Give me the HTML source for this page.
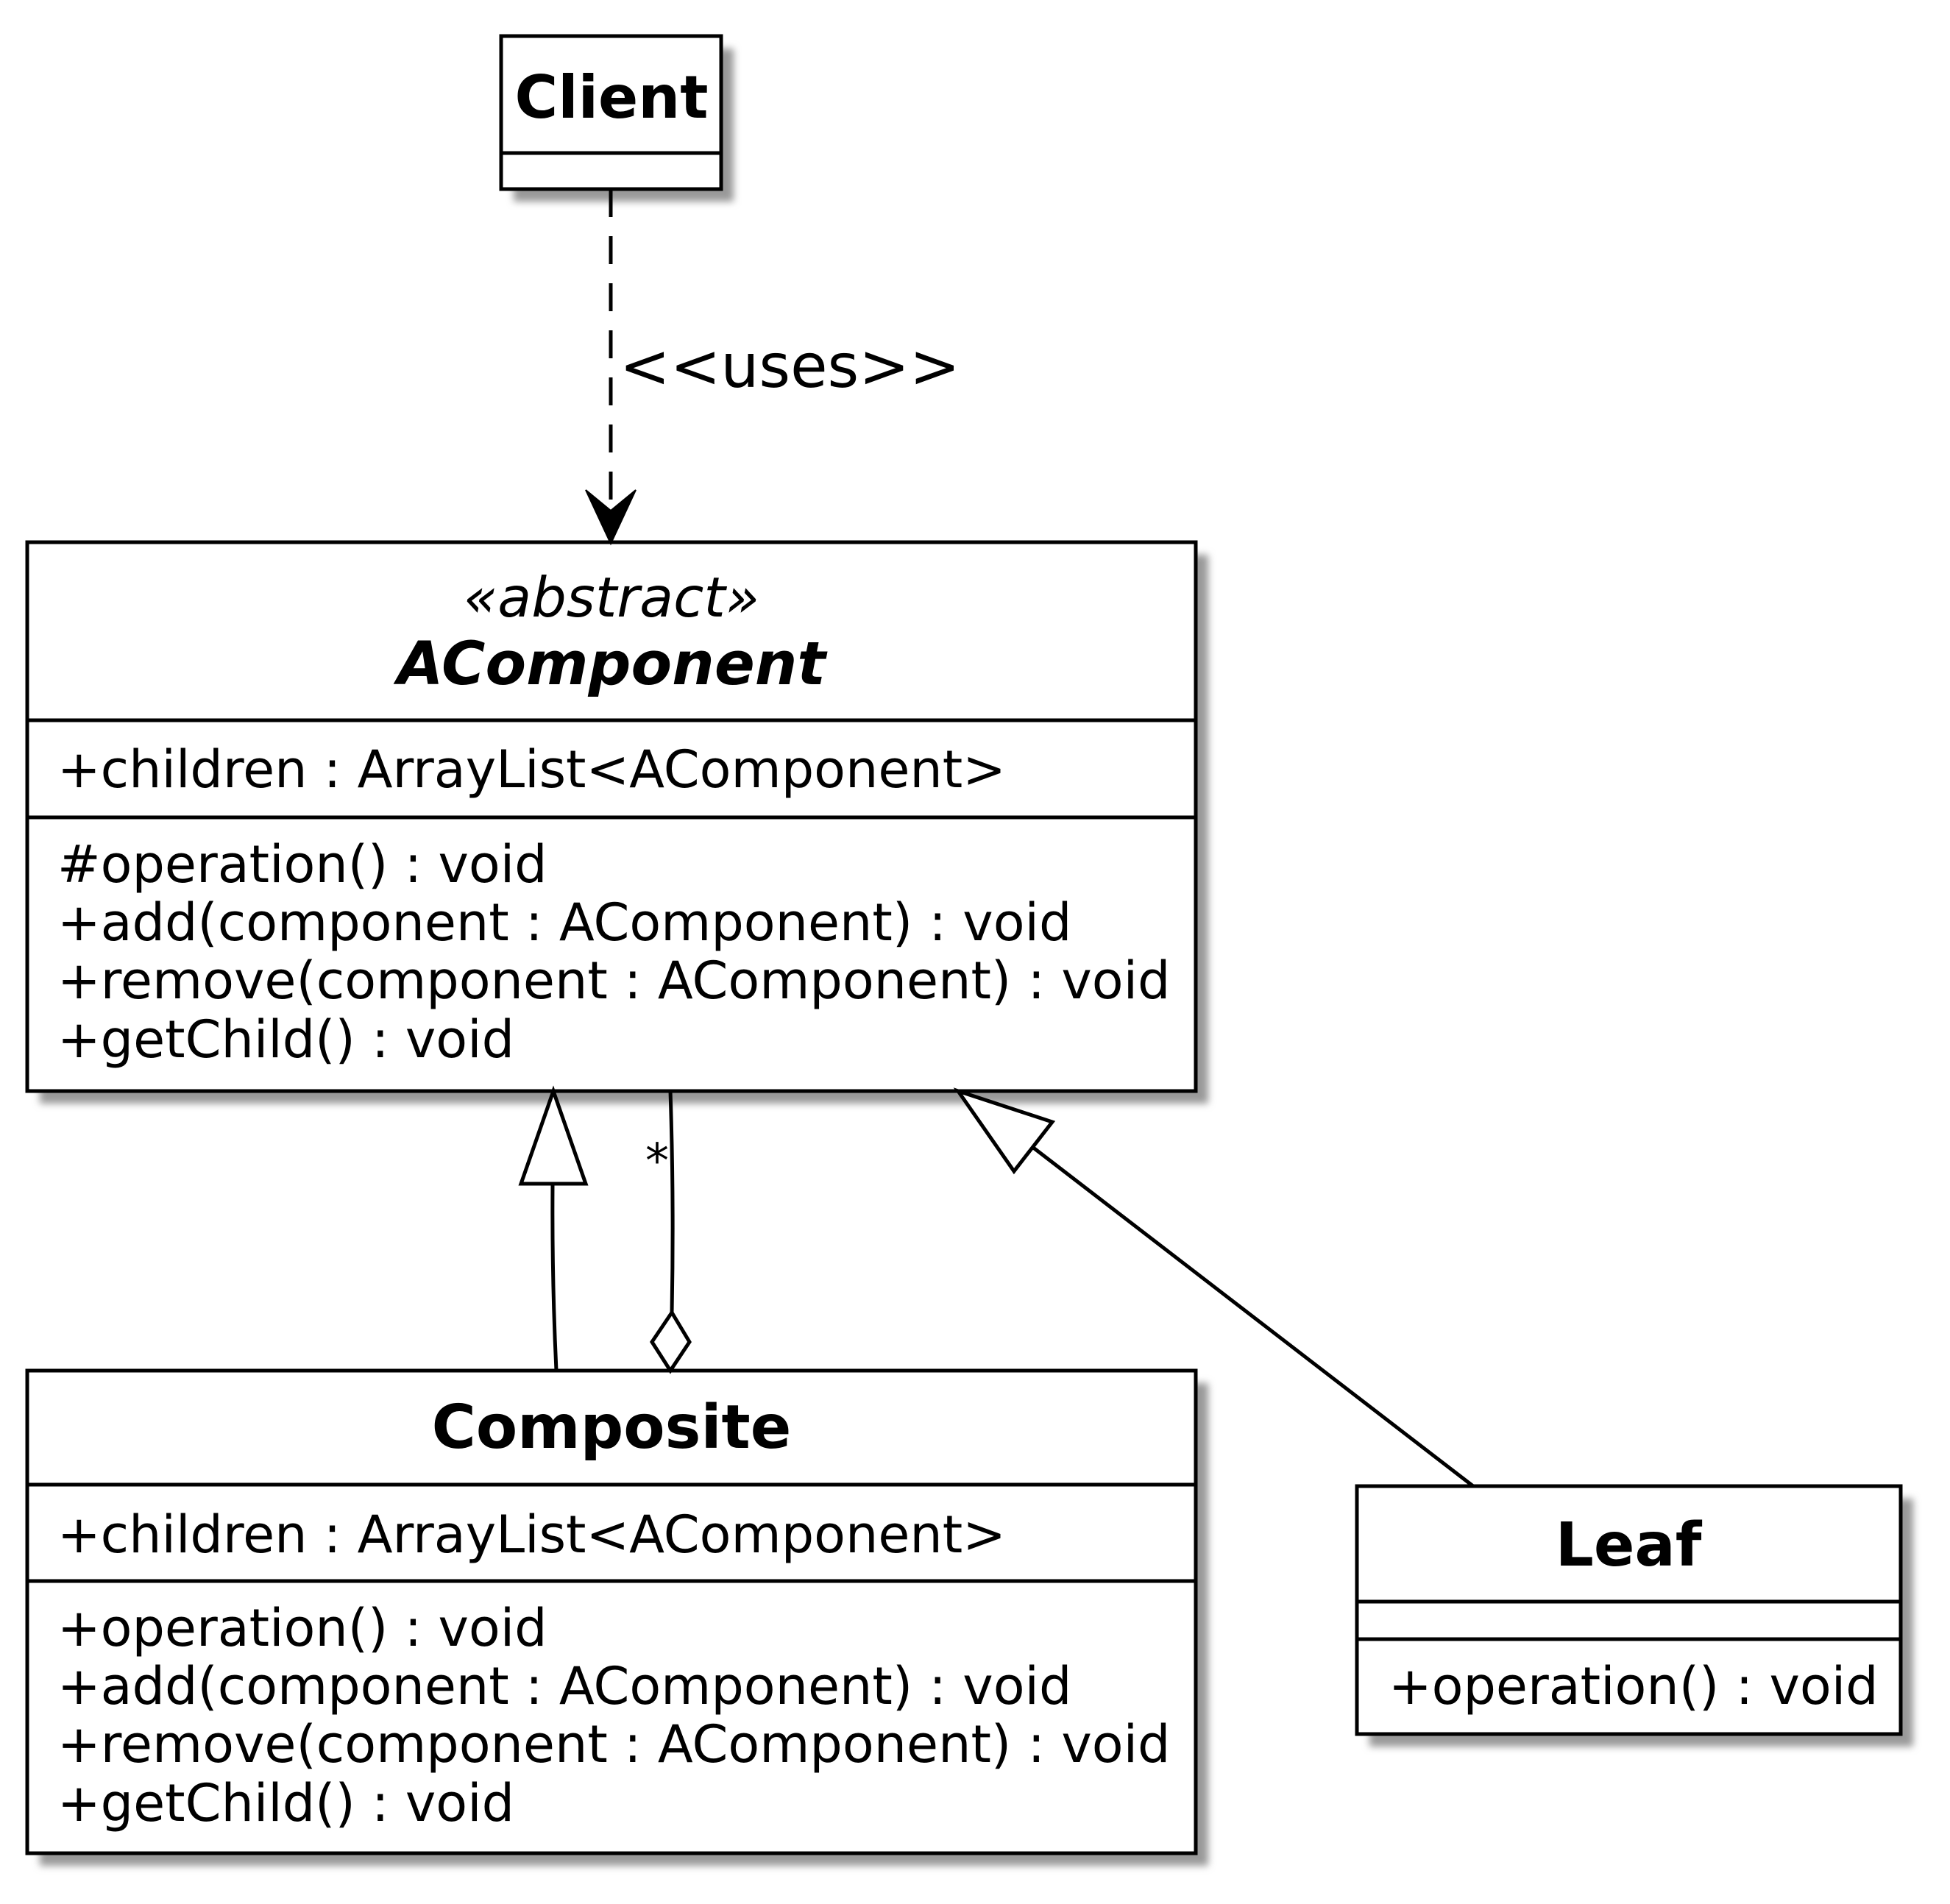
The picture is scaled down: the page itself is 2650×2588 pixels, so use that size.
<!DOCTYPE html>
<html><head><meta charset="utf-8"><style>
html,body{margin:0;padding:0;background:#fff;}
svg{display:block;}
text{font-family:"DejaVu Sans","Liberation Sans",sans-serif;fill:#000;}
</style></head><body>
<svg width="2650" height="2588" viewBox="0 0 2650 2588" xmlns="http://www.w3.org/2000/svg">
<defs>
<filter id="sh" x="-10%" y="-10%" width="130%" height="130%"><feGaussianBlur stdDeviation="5"/></filter>
</defs>
<g fill="#999" filter="url(#sh)">
<rect x="698" y="66" width="299" height="208"/>
<rect x="54" y="754" width="1588" height="746"/>
<rect x="54" y="1880" width="1588" height="656"/>
<rect x="1861" y="2037" width="739" height="337"/>
</g>
<g fill="#fff" stroke="#000" stroke-width="5">
<rect x="681" y="49" width="299" height="208"/>
<rect x="37" y="737" width="1588" height="746"/>
<rect x="37" y="1863" width="1588" height="656"/>
<rect x="1844" y="2020" width="739" height="337"/>
</g>
<g stroke="#000" stroke-width="5">
<line x1="683" y1="208" x2="978" y2="208"/>
<line x1="39" y1="979" x2="1623" y2="979"/>
<line x1="39" y1="1111" x2="1623" y2="1111"/>
<line x1="39" y1="2018" x2="1623" y2="2018"/>
<line x1="39" y1="2149" x2="1623" y2="2149"/>
<line x1="1846" y1="2177" x2="2581" y2="2177"/>
<line x1="1846" y1="2228" x2="2581" y2="2228"/>
</g>
<text x="831" y="160" font-size="80" font-weight="bold" text-anchor="middle">Client</text>
<text x="831" y="838" font-size="75" font-style="italic" text-anchor="middle">«abstract»</text>
<text x="831" y="930" font-size="81" font-weight="bold" font-style="italic" text-anchor="middle">AComponent</text>
<g font-size="70">
<text x="78" y="1070">+children : ArrayList&lt;AComponent&gt;</text>
<text x="78" y="1199">#operation() : void</text>
<text x="78" y="1278">+add(component : AComponent) : void</text>
<text x="78" y="1357">+remove(component : AComponent) : void</text>
<text x="78" y="1437">+getChild() : void</text>
<text x="78" y="2110">+children : ArrayList&lt;AComponent&gt;</text>
<text x="78" y="2237">+operation() : void</text>
<text x="78" y="2316">+add(component : AComponent) : void</text>
<text x="78" y="2395">+remove(component : AComponent) : void</text>
<text x="78" y="2475">+getChild() : void</text>
<text x="1887" y="2316">+operation() : void</text>
</g>
<text x="831" y="1968" font-size="82" font-weight="bold" text-anchor="middle">Composite</text>
<text x="2213" y="2128" font-size="82" font-weight="bold" text-anchor="middle">Leaf</text>
<text x="842" y="526" font-size="82">&lt;&lt;uses&gt;&gt;</text>
<text x="877" y="1600" font-size="64">*</text>
<g stroke="#000" stroke-width="5" fill="none">
<line x1="830" y1="257" x2="830" y2="700" stroke-dasharray="38,26"/>
<path d="M756 1863 Q750 1740 751 1609"/>
<path d="M911 1483 Q916 1630 913 1784"/>
<line x1="2002" y1="2020" x2="1403" y2="1559"/>
</g>
<path d="M830 739 L796 666 L830 694 L864 666 Z" fill="#000" stroke="#000" stroke-width="2"/>
<polygon points="752,1483 708,1609 796,1609" fill="#fff" stroke="#000" stroke-width="5"/>
<polygon points="913,1784 886,1824 911,1863 937,1824" fill="#fff" stroke="#000" stroke-width="5"/>
<polygon points="1302,1483 1378,1592 1430,1525" fill="#fff" stroke="#000" stroke-width="5"/>
</svg>
</body></html>
